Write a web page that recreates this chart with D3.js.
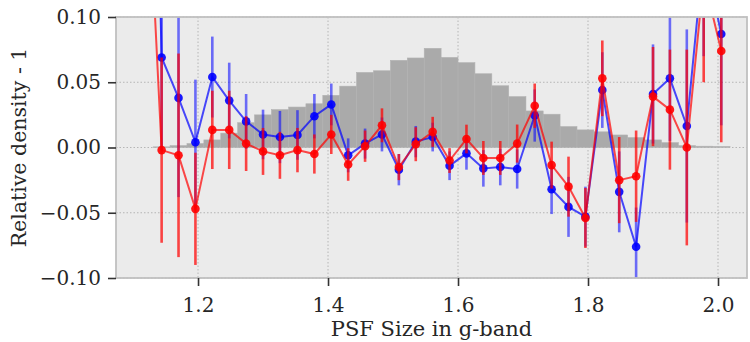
<!DOCTYPE html>
<html>
<head>
<meta charset="utf-8">
<script src="https://d3js.org/d3.v7.min.js"></script>
<style>
  body { margin: 0; background: #fff; }
  text { font-family: "DejaVu Serif", serif; }
</style>
</head>
<body>
<div id="chart"></div>
<script>
// bin centres (PSF size in g-band)
const psfSize = [1.118, 1.144, 1.170, 1.196, 1.222, 1.248, 1.274, 1.300, 1.326, 1.353,
                 1.379, 1.405, 1.431, 1.457, 1.483, 1.509, 1.535, 1.561, 1.587, 1.613,
                 1.639, 1.665, 1.691, 1.718, 1.744, 1.770, 1.796, 1.822, 1.848, 1.874,
                 1.900, 1.926, 1.952, 1.978, 2.005]

// blue series and its errors
const blueVals = [0.60, 0.069, 0.038, 0.004, 0.054, 0.036, 0.020, 0.010, 0.008, 0.0096,
                  0.024, 0.033, -0.006, 0.003, 0.010, -0.017, 0.0045, 0.008, -0.014, -0.0045,
                  -0.016, -0.015, -0.0165, 0.0245, -0.032, -0.0455, -0.053, 0.044, -0.034, -0.076,
                  0.041, 0.053, 0.0165, 0.15, 0.087]
const blueErr = [0.10, 0.072, 0.076, 0.048, 0.031, 0.029, 0.021, 0.019, 0.020, 0.019,
                 0.017, 0.016, 0.013, 0.0115, 0.013, 0.012, 0.012, 0.011, 0.011, 0.0125,
                 0.014, 0.014, 0.015, 0.020, 0.019, 0.023, 0.023, 0.029, 0.031, 0.030,
                 0.038, 0.048, 0.074, 0.08, 0.07]

// red series and its errors
const redVals = [0.26, -0.002, -0.006, -0.047, 0.0135, 0.0135, 0.003, -0.003, -0.006, -0.002,
                 -0.005, 0.010, -0.013, 0.001, 0.017, -0.015, 0.0025, 0.012, -0.010, 0.0065,
                 -0.008, -0.008, 0.003, 0.032, -0.0135, -0.030, -0.054, 0.053, -0.025, -0.022,
                 0.039, 0.029, 0.000, 0.13, 0.074]
const redErr = [0.10, 0.071, 0.078, 0.043, 0.030, 0.030, 0.021, 0.018, 0.018, 0.017,
                0.015, 0.015, 0.0125, 0.012, 0.013, 0.010, 0.013, 0.0115, 0.0095, 0.011,
                0.013, 0.013, 0.0146, 0.017, 0.018, 0.023, 0.023, 0.029, 0.033, 0.035,
                0.038, 0.046, 0.075, 0.08, 0.07]

// grey histogram (scaled onto the same axis)
const histVals = [0, 0.0005, 0.0014, 0.003, 0.0058, 0.011, 0.019, 0.025, 0.029, 0.031,
                  0.0335, 0.040, 0.047, 0.0575, 0.0588, 0.0668, 0.0686, 0.076, 0.069, 0.065,
                  0.0565, 0.0473, 0.039, 0.028, 0.0255, 0.016, 0.0135, 0.012, 0.0096, 0.0076,
                  0.0058, 0.0037, 0.0014, 0.001, 0.0008]

const xTicks = [1.2, 1.4, 1.6, 1.8, 2.0]
const yTicks = [-0.10, -0.05, 0.00, 0.05, 0.10]

const w = 750
const h = 342
const padL = 116, padR = 747, padT = 17, padB = 278

const xScale = d3.scaleLinear().domain([1.0738, 2.0446]).range([padL, padR])
const yScale = d3.scaleLinear().domain([-0.1, 0.1]).range([padB, padT])

const svg = d3.select("#chart")
              .append("svg")
              .attr("width", w)
              .attr("height", h)

svg.append("defs").append("clipPath")
   .attr("id", "plotclip")
   .append("rect")
   .attr("x", padL).attr("y", padT)
   .attr("width", padR - padL).attr("height", padB - padT)

// plot background
svg.append("rect")
   .attr("x", padL).attr("y", padT)
   .attr("width", padR - padL).attr("height", padB - padT)
   .attr("fill", "#ebebeb")

// dotted grid
svg.append("g").selectAll("line")
   .data(xTicks)
   .enter().append("line")
   .attr("x1", d => xScale(d)).attr("x2", d => xScale(d))
   .attr("y1", padT).attr("y2", padB)
   .attr("stroke", "#b5b5b5").attr("stroke-width", 1)
   .attr("stroke-dasharray", "1.5,2")
svg.append("g").selectAll("line")
   .data(yTicks)
   .enter().append("line")
   .attr("x1", padL).attr("x2", padR)
   .attr("y1", d => yScale(d)).attr("y2", d => yScale(d))
   .attr("stroke", "#b5b5b5").attr("stroke-width", 1)
   .attr("stroke-dasharray", "1.5,2")

const plot = svg.append("g").attr("clip-path", "url(#plotclip)")

// histogram bin edges from the centres
const edgeL = psfSize.map((d, i) => i > 0 ? (psfSize[i - 1] + d) / 2 : d - (psfSize[1] - psfSize[0]) / 2)
const edgeR = psfSize.map((d, i) => i < psfSize.length - 1 ? (psfSize[i + 1] + d) / 2 : d + (d - psfSize[i - 1]) / 2)

plot.append("g").selectAll("rect")
    .data(histVals)
    .enter().append("rect")
    .attr("x", (d, i) => xScale(edgeL[i]))
    .attr("width", (d, i) => xScale(edgeR[i]) - xScale(edgeL[i]))
    .attr("y", d => yScale(d))
    .attr("height", d => yScale(0) - yScale(d))
    .attr("fill", "#aaaaaa")
    .attr("stroke", "#b2b2b2")
    .attr("stroke-width", 0.6)

function drawSeries(vals, errs, color, errAlpha) {
  const g = plot.append("g")
  // error bars
  g.selectAll("line.err")
   .data(vals)
   .enter().append("line")
   .attr("class", "err")
   .attr("x1", (d, i) => xScale(psfSize[i]))
   .attr("x2", (d, i) => xScale(psfSize[i]))
   .attr("y1", (d, i) => yScale(d - errs[i]))
   .attr("y2", (d, i) => yScale(d + errs[i]))
   .attr("stroke", color)
   .attr("stroke-width", 2.6)
   .attr("stroke-opacity", errAlpha)
  // connecting line
  const line = d3.line()
                 .x((d, i) => xScale(psfSize[i]))
                 .y(d => yScale(d))
  g.append("path")
   .datum(vals)
   .attr("d", line)
   .attr("fill", "none")
   .attr("stroke", color)
   .attr("stroke-width", 2)
   .attr("stroke-opacity", 0.7)
  // markers
  g.selectAll("circle")
   .data(vals)
   .enter().append("circle")
   .attr("cx", (d, i) => xScale(psfSize[i]))
   .attr("cy", d => yScale(d))
   .attr("r", 4.3)
   .attr("fill", color)
   .attr("fill-opacity", 0.9)
}

drawSeries(blueVals, blueErr, "#0000ff", 0.55)
drawSeries(redVals, redErr, "#ff0000", 0.72)

// spines
svg.append("rect")
   .attr("x", padL).attr("y", padT)
   .attr("width", padR - padL).attr("height", padB - padT)
   .attr("fill", "none")
   .attr("stroke", "#c0c0c0")
   .attr("stroke-width", 1.8)

// axes
const xAxis = d3.axisBottom(xScale).tickValues(xTicks).tickFormat(d3.format(".1f")).tickSize(8).tickPadding(12)
const yAxis = d3.axisLeft(yScale).tickValues(yTicks).tickFormat(d3.format(".2f")).tickSize(8).tickPadding(7)

const gx = svg.append("g")
              .attr("transform", "translate(0," + padB + ")")
              .call(xAxis)
const gy = svg.append("g")
              .attr("transform", "translate(" + padL + ",0)")
              .call(yAxis)

;[gx, gy].forEach(g => {
  g.select(".domain").remove()
  g.selectAll(".tick line").attr("stroke", "#333").attr("stroke-width", 1.6)
  g.selectAll(".tick text")
   .attr("fill", "#262626")
   .style("font-size", "20px")
   .style("font-family", "'DejaVu Serif', serif")
})

// axis labels
svg.append("text")
   .attr("x", (padL + padR) / 2)
   .attr("y", 336)
   .attr("text-anchor", "middle")
   .attr("fill", "#262626")
   .style("font-size", "21px")
   .text("PSF Size in g-band")

svg.append("text")
   .attr("transform", "translate(26," + (padT + padB) / 2 + ") rotate(-90)")
   .attr("text-anchor", "middle")
   .attr("fill", "#262626")
   .style("font-size", "20.5px")
   .text("Relative density - 1")
</script>
</body>
</html>
